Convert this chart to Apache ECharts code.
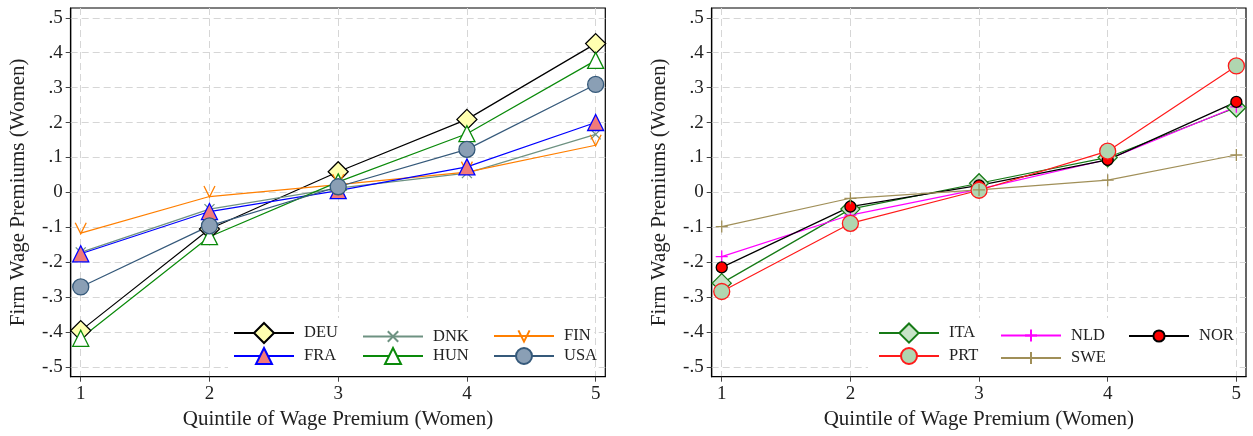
<!DOCTYPE html>
<html>
<head>
<meta charset="utf-8">
<script src="https://cdn.jsdelivr.net/npm/echarts@6/dist/echarts.min.js"></script>
<style>
  html, body { margin: 0; padding: 0; background: #fff; }
  #chart { width: 1253px; height: 436px; }
</style>
</head>
<body>
<div id="chart"></div>
<script>
// Quintiles on the x axis and tick values on the y axis
const quintiles = [1, 2, 3, 4, 5];
const yTicks = [-0.5, -0.4, -0.3, -0.2, -0.1, 0, 0.1, 0.2, 0.3, 0.4, 0.5];

// Left panel: firm wage premiums by quintile
const DEU = [-0.396, -0.105, 0.059, 0.209, 0.426];
const DNK = [-0.172, -0.048, 0.012, 0.055, 0.166];
const FIN = [-0.117, -0.012, 0.022, 0.058, 0.135];
const FRA = [-0.176, -0.055, 0.005, 0.073, 0.200];
const HUN = [-0.418, -0.127, 0.030, 0.168, 0.378];
const USA = [-0.271, -0.096, 0.016, 0.123, 0.309];

// Right panel
const ITA = [-0.260, -0.048, 0.026, 0.100, 0.243];
const NLD = [-0.184, -0.065, 0.009, 0.094, 0.245];
const NOR = [-0.215, -0.041, 0.020, 0.093, 0.259];
const PRT = [-0.284, -0.089, 0.006, 0.118, 0.362];
const SWE = [-0.098, -0.017, 0.007, 0.035, 0.107];

const FONT = 'Liberation Serif';
const TXT = '#222';

// Symbol paths
const X_PATH = 'path://M0,0 L10,10 M10,0 L0,10';
const V_PATH = 'path://M0,0 L5,10 L10,0';
const PLUS_PATH = 'path://M5,0 L5,10 M0,5 L10,5';

// Marker and line style per country
const styles = {
  DEU: { data: DEU, line: '#000000', symbol: 'diamond', size: 20, fill: '#ffffb0', border: '#000000' },
  DNK: { data: DNK, line: '#6e9282', symbol: X_PATH, size: 10, fill: 'none', border: '#6e9282' },
  FIN: { data: FIN, line: '#ff7f00', symbol: V_PATH, size: 11, fill: 'none', border: '#ff7f00', offset: [0, -5] },
  FRA: { data: FRA, line: '#0000ff', symbol: 'triangle', size: 16, fill: '#f27a7a', border: '#0000ff' },
  HUN: { data: HUN, line: '#0a8a0a', symbol: 'triangle', size: 16, fill: '#ffffff', border: '#0a8a0a' },
  USA: { data: USA, line: '#35597a', symbol: 'circle', size: 16, fill: '#8a9fb5', border: '#35597a' },
  ITA: { data: ITA, line: '#167a16', symbol: 'diamond', size: 19, fill: '#c8e3c8', border: '#167a16' },
  NLD: { data: NLD, line: '#ff00ff', symbol: PLUS_PATH, size: 12, fill: 'none', border: '#ff00ff' },
  NOR: { data: NOR, line: '#000000', symbol: 'circle', size: 11, fill: '#ff0000', border: '#000000' },
  PRT: { data: PRT, line: '#ff1a1a', symbol: 'circle', size: 16, fill: '#b0d6b0', border: '#ff1a1a' },
  SWE: { data: SWE, line: '#a08f58', symbol: PLUS_PATH, size: 12, fill: 'none', border: '#a08f58' }
};

const leftNames = ['DEU', 'DNK', 'FIN', 'FRA', 'HUN', 'USA'];
const rightNames = ['ITA', 'NLD', 'NOR', 'PRT', 'SWE'];

function fmtY(v) {
  const r = Math.round(v * 10) / 10;
  if (r === 0) return '0';
  return r.toFixed(1).replace('0.', '.');
}

function makeSeries(name, idx) {
  const s = styles[name];
  return {
    name: name,
    type: 'line',
    xAxisIndex: idx,
    yAxisIndex: idx,
    data: quintiles.map((q, i) => [q, s.data[i]]),
    symbol: s.symbol,
    symbolSize: s.size,
    symbolOffset: s.offset || [0, 0],
    showAllSymbol: true,
    lineStyle: { color: s.line, width: 1.2 },
    itemStyle: { color: s.fill, borderColor: s.border, borderWidth: 1.3 },
    emphasis: { disabled: true },
    z: 2
  };
}

const gridLine = { show: true, lineStyle: { color: '#d6d6d6', type: [7, 4], width: 1 } };

function xAxis(idx) {
  return {
    type: 'value', gridIndex: idx, min: 0.922, max: 5.075,
    axisLine: { show: true, onZero: false, lineStyle: { color: '#000', width: 1.2 } },
    axisTick: { show: true, customValues: quintiles, length: 5, lineStyle: { color: '#444' } },
    axisLabel: { customValues: quintiles, fontFamily: FONT, fontSize: 19, color: TXT, margin: 8 },
    splitLine: gridLine,
    name: 'Quintile of Wage Premium (Women)', nameLocation: 'middle', nameGap: 30,
    nameTextStyle: { fontFamily: FONT, fontSize: 21, color: TXT }
  };
}

function yAxis(idx) {
  return {
    type: 'value', gridIndex: idx, min: -0.528, max: 0.528,
    axisLine: { show: true, onZero: false, lineStyle: { color: '#000', width: 1.2 } },
    axisTick: { show: true, customValues: yTicks, length: 5, lineStyle: { color: '#444' } },
    axisLabel: { customValues: yTicks, formatter: fmtY, fontFamily: FONT, fontSize: 19, color: TXT, margin: 8 },
    splitLine: gridLine,
    name: 'Firm Wage Premiums (Women)', nameLocation: 'middle', nameGap: 42,
    nameTextStyle: { fontFamily: FONT, fontSize: 21, color: TXT }
  };
}

// Legend slots: two rows of three, each entry placed by its icon's left edge
function legendItems(names, cols, rows) {
  return names.map((n, i) => {
    const s = styles[n];
    const h = Math.max(12, Math.round(s.size / 0.8));
    const cx = cols[i % 3];
    const cy = rows[Math.floor(i / 3)];
    return {
      data: [n], left: cx, top: cy - h / 2, padding: 0,
      itemWidth: 60, itemHeight: h,
      textStyle: { fontFamily: FONT, fontSize: 16.5, color: TXT, padding: [0, 0, 0, 5] },
      selectedMode: false
    };
  });
}

const legends = legendItems(leftNames, [233, 362, 493], [334.5, 357])
  .concat(legendItems(rightNames, [878, 1000, 1128], [334.5, 357]));

const chart = echarts.init(document.getElementById('chart'), null, { renderer: 'canvas' });
chart.setOption({
  animation: false,
  backgroundColor: '#fff',
  grid: [
    { left: 70.7, top: 8, width: 534.6, height: 368.7, show: true, borderColor: '#000', borderWidth: 1.2, backgroundColor: 'transparent' },
    { left: 711.7, top: 8, width: 534.3, height: 368.7, show: true, borderColor: '#000', borderWidth: 1.2, backgroundColor: 'transparent' }
  ],
  xAxis: [xAxis(0), xAxis(1)],
  yAxis: [yAxis(0), yAxis(1)],
  graphic: [
    { type: 'rect', shape: { x: 228, y: 318, width: 366, height: 58 }, style: { fill: '#fff' }, z: 3, silent: true },
    { type: 'rect', shape: { x: 868, y: 318, width: 368, height: 58 }, style: { fill: '#fff' }, z: 3, silent: true }
  ],
  legend: legends,
  series: leftNames.map(n => makeSeries(n, 0)).concat(rightNames.map(n => makeSeries(n, 1)))
});
</script>
</body>
</html>
